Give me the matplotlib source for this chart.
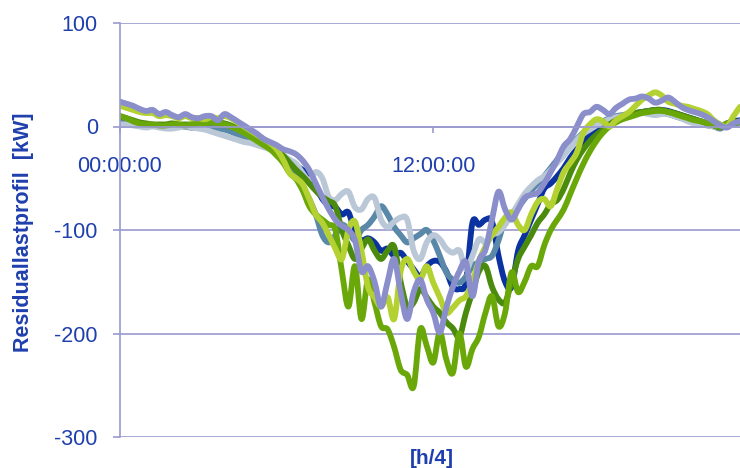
import numpy as np
import matplotlib
matplotlib.use('Agg')
import matplotlib.pyplot as plt
from matplotlib.path import Path
from matplotlib.patches import PathPatch

plt.rcParams['font.family'] = ['Liberation Sans', 'DejaVu Sans']

# 15-minute steps over one day (96 values)
steps = np.arange(96)
tick_pos = [0, 48]
tick_labels = ['00:00:00', '12:00:00']

dark_blue = [5, 4, 3, 2, 1, 1, 0, 0, 1, 1, 0, -1, 0, 1, 2, 2, 0, -2, -5, -8,
             -12, -16, -18, -20, -24, -30, -35, -38, -42, -46, -58, -70, -76, -78, -85, -83, -102, -110, -108, -112,
             -120, -118, -125, -122, -130, -138, -145, -135, -130, -131, -140, -155, -157, -150, -93, -95, -90, -92, -125, -150,
             -155, -120, -105, -90, -75, -60, -55, -48, -40, -30, -22, -15, -8, -3, 2, 6, 8, 10, 12, 13,
             14, 15, 16, 16, 15, 13, 11, 9, 7, 5, 3, 1, -1, 3, 5, 6]

steel_blue = [4, 3, 2, 1, 0, 1, 0, -1, 0, 1, 0, 0, 1, 1, 0, -2, -3, -5, -8, -10,
              -13, -16, -18, -20, -25, -32, -40, -48, -58, -70, -85, -105, -112, -105, -95, -100, -110, -100, -95, -87,
              -77, -85, -97, -105, -112, -108, -104, -100, -110, -125, -141, -148, -151, -145, -135, -131, -128, -125, -110, -90,
              -85, -78, -70, -62, -55, -48, -40, -32, -25, -18, -12, -6, -2, 2, 5, 8, 10, 11, 12, 13,
              14, 15, 14, 13, 12, 10, 8, 6, 4, 3, 1, 0, -2, 2, 3, 4]

light_grey = [2, 2, 1, 0, -1, 0, -1, -2, -2, -1, 0, -1, -2, -3, -5, -7, -9, -11, -13, -15,
              -16, -18, -20, -22, -24, -28, -32, -36, -45, -52, -44, -50, -68, -71, -65, -63, -78, -80, -70, -69,
              -90, -97, -92, -88, -90, -120, -128, -112, -105, -109, -118, -122, -120, -138, -125, -109, -112, -105, -102, -95,
              -85, -75, -65, -58, -52, -48, -42, -35, -28, -20, -13, -7, -3, 1, 4, 7, 9, 10, 11, 12,
              13, 12, 11, 12, 12, 10, 8, 5, 3, 2, 1, 0, -1, 2, 3, 4]

dark_green = [10, 8, 6, 4, 3, 2, 2, 2, 3, 2, 2, 2, 3, 3, 4, 4, 3, 1, -2, -5,
              -8, -12, -15, -18, -22, -28, -35, -42, -48, -55, -62, -68, -72, -77, -100, -115, -128, -118, -109, -120,
              -128, -120, -116, -150, -174, -170, -157, -165, -174, -180, -189, -195, -203, -180, -160, -140, -135, -155, -167, -170,
              -150, -128, -116, -105, -93, -85, -75, -71, -60, -45, -32, -22, -14, -8, -3, 2, 6, 9, 11, 13,
              14, 15, 16, 16, 14, 13, 11, 9, 7, 5, 3, 1, -1, 2, 3, 4]

mid_green = [10, 8, 5, 3, 2, 2, 1, 1, 2, 2, 1, 2, 3, 3, 4, 3, 2, 0, -3, -6,
             -10, -14, -18, -22, -28, -35, -45, -51, -62, -77, -85, -90, -95, -100, -140, -174, -135, -186, -148, -170,
             -193, -196, -213, -235, -240, -251, -196, -212, -228, -199, -225, -238, -200, -232, -215, -203, -180, -164, -193, -180,
             -141, -160, -150, -135, -135, -115, -100, -90, -80, -65, -50, -36, -24, -14, -6, 0, 4, 7, 9, 11,
             13, 14, 15, 15, 14, 12, 10, 8, 6, 5, 3, 1, 0, 3, 4, 5]

light_green = [20, 18, 16, 14, 13, 13, 10, 11, 10, 8, 10, 8, 8, 7, 9, 8, 10, 8, 4, 0,
               -4, -8, -12, -16, -22, -32, -45, -50, -56, -70, -85, -93, -105, -118, -128, -100, -92, -120, -155, -165,
               -174, -165, -186, -140, -128, -140, -148, -135, -151, -165, -180, -175, -168, -164, -150, -130, -116, -105, -97, -88,
               -83, -95, -100, -85, -73, -70, -77, -60, -44, -35, -25, -6, 2, 7, 5, 0, 6, 10, 14, 20,
               26, 30, 33, 30, 24, 22, 20, 19, 17, 15, 12, 6, 2, 0, 10, 19]

lavender = [24, 22, 20, 17, 15, 16, 12, 14, 11, 9, 12, 9, 8, 10, 10, 6, 12, 9, 5, 1,
            -3, -7, -12, -15, -18, -22, -24, -27, -33, -42, -55, -68, -80, -90, -96, -100, -110, -140, -135, -150,
            -174, -150, -128, -160, -186, -160, -148, -167, -180, -199, -175, -155, -140, -131, -164, -130, -119, -90, -63, -80,
            -90, -80, -69, -66, -64, -55, -44, -32, -19, -12, 0, 12, 14, 19, 16, 12, 18, 22, 26, 27,
            29, 27, 23, 25, 28, 24, 19, 16, 14, 12, 9, 5, 1, -1, 3, 5]

series = [dark_blue, steel_blue, light_grey, dark_green, mid_green, light_green, lavender]
colors = ['#0a32a0', '#5a88a8', '#b9c7d6', '#4a8a0c', '#6aa80a', '#b4d132', '#8a8ecb']

text_col = '#1f3fae'
grid_col = '#9a9ad0'


def smooth_path(x, y):
    # smoothed line like the spreadsheet: bezier segments through every point
    pts = np.column_stack([x, y]).astype(float)
    verts = [pts[0]]
    codes = [Path.MOVETO]
    n = len(pts)
    for i in range(n - 1):
        p0 = pts[max(i - 1, 0)]
        p1 = pts[i]
        p2 = pts[i + 1]
        p3 = pts[min(i + 2, n - 1)]
        verts += [p1 + (p2 - p0) / 6, p2 - (p3 - p1) / 6, p2]
        codes += [Path.CURVE4] * 3
    return Path(verts, codes)


fig = plt.figure(figsize=(7.4, 4.68), dpi=100)
ax = fig.add_axes([120 / 740, 1 - 437 / 468, 620 / 740, 414 / 468])

for vals, c in zip(series, colors):
    ax.add_patch(PathPatch(smooth_path(steps, vals), fill=False, edgecolor=c,
                           lw=4.2, joinstyle='round', capstyle='round'))

ax.set_xlim(0, 95)
ax.set_ylim(-300, 100)
ax.set_yticks([-300, -200, -100, 0, 100])
ax.set_yticklabels(['-300', '-200', '-100', '0', '100'])
ax.set_xticks(tick_pos)
ax.set_xticklabels(tick_labels)

ax.grid(axis='y', color=grid_col, lw=1.2)
ax.set_axisbelow(True)

for s in ['top', 'right']:
    ax.spines[s].set_visible(False)
ax.spines['left'].set_color(grid_col)
ax.spines['left'].set_linewidth(1.2)
ax.spines['bottom'].set_position(('data', 0))
ax.spines['bottom'].set_color(grid_col)
ax.spines['bottom'].set_linewidth(1.2)

ax.tick_params(axis='y', colors=grid_col, length=5, width=1.2, pad=11,
               labelcolor=text_col, labelsize=15.5)
ax.tick_params(axis='x', colors=grid_col, length=4, width=1.2, pad=17,
               labelcolor=text_col, labelsize=15.5)

fig.text(24 / 740, 1 - 232 / 468, 'Residuallastprofil  [kW]', rotation=90,
         ha='center', va='center', color=text_col, fontsize=15.5, fontweight='bold')
fig.text(432 / 740, 1 - 458 / 468, '[h/4]', ha='center', va='center',
         color=text_col, fontsize=15, fontweight='bold')

fig.savefig('out.png', dpi=100)
